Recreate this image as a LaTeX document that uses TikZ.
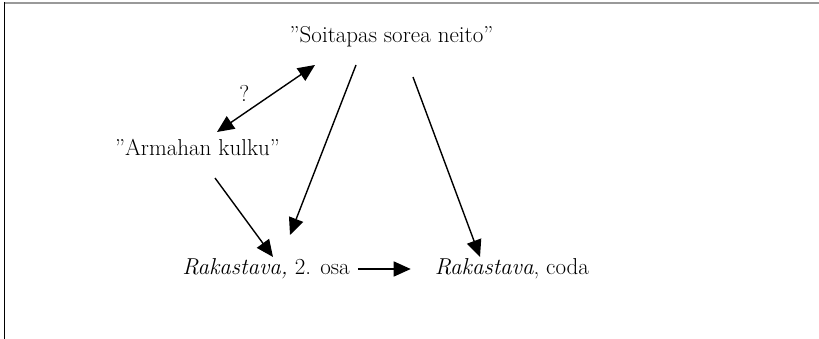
\documentclass[tikz,border=0pt]{standalone}
\usetikzlibrary{arrows.meta,calc}

\tikzset{
    arr/.style={-{Triangle[length=17pt,width=15pt]}, line width=1.4pt},
    dblarr/.style={{Triangle[length=17pt,width=15pt]}-{Triangle[length=17pt,width=15pt]}, line width=1.4pt},
    txt/.style={inner sep=0pt, anchor=base, font=\fontsize{23}{27}\selectfont}
}

\begin{document}
\begin{tikzpicture}[x=1pt, y=-1pt]
            \useasboundingbox (0, 0) rectangle (819, 339);
            \draw[gray!80, line width=2.5pt] (4, 3) -- (819, 3);
            \draw[line width=0.9pt] (4, 2) -- (4, 339);

            \node[txt] (soitapas) at (391.5, 43) {''Soitapas sorea neito''};
            \node[txt] (armahan) at (197.5, 156) {''Armahan kulku''};
            \node[txt] (osa) at (266, 274) {\textit{Rakastava,} 2. osa};
            \node[txt] (coda) at (512, 274) {\textit{Rakastava}, coda};

            \draw[dblarr] ($(armahan.base)+(19.5, -24)$) -- ($(soitapas.base)+(-76.5, 22)$)
                node[txt, pos=0.28, anchor=south, yshift=11pt] (kysymys) {?};
            \draw[arr] ($(soitapas.base)+(-35.5, 22)$) -- ($(osa.base)+(24, -39)$);
            \draw[arr] ($(armahan.base)+(17.5, 22)$) -- ($(osa.base)+(7, -17)$);
            \draw[arr] ($(soitapas.base)+(21.5, 34)$) -- ($(coda.base)+(-32, -17)$);
            \draw[arr] ($(osa.base east)+(8, -5)$) -- ($(coda.base west)+(-24, -5)$);
        \end{tikzpicture}
\end{document}
